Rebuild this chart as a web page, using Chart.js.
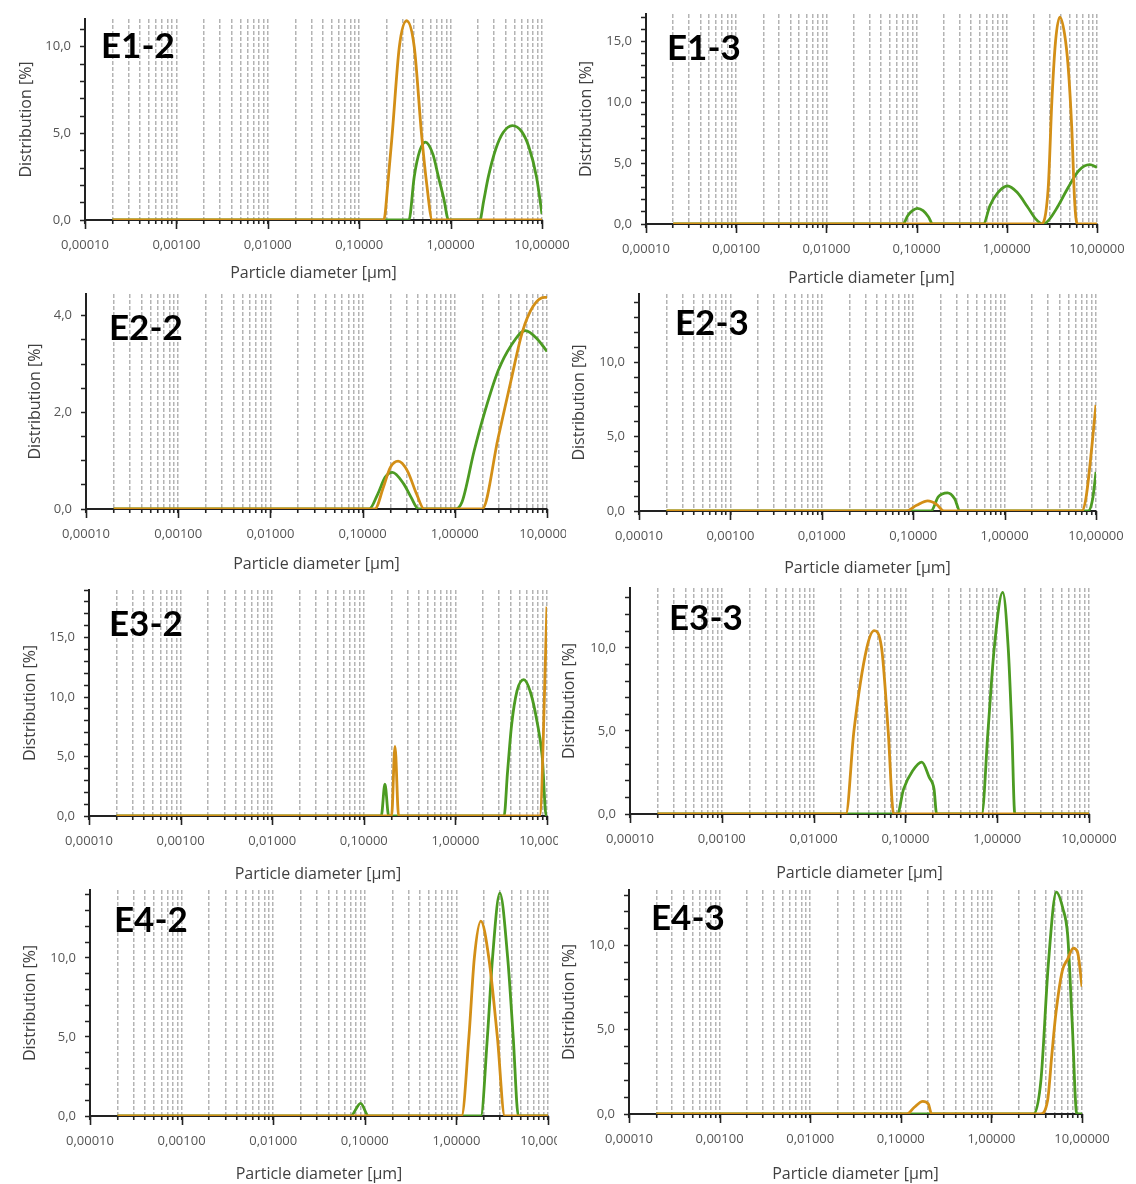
<!DOCTYPE html>
<html>
<head>
<meta charset="utf-8">
<script src="https://cdn.jsdelivr.net/npm/chart.js@4/dist/chart.umd.min.js"></script>
<style>
  html, body { margin: 0; padding: 0; background: #fff; }
  #sheet { position: relative; width: 1136px; height: 1184px; overflow: hidden; background: #fff; }
  .panel { position: absolute; }
  .panel canvas { position: absolute; left: 0; top: 0; }
  .tag { position: absolute; font-family: Lato, "Open Sans", sans-serif; font-weight: 700;
         font-size: 35px; line-height: 1; color: #000; white-space: nowrap; }
</style>
</head>
<body>
<div id="sheet"></div>
<script>
// Particle size distributions, [diameter in µm, distribution in %]
const e12Green  = [[0.0002,0],[0.35,0],[0.40,2.5],[0.46,4.0],[0.53,4.5],[0.64,3.8],[0.735,2.5],[0.845,1.2],[0.95,0],[2.09,0],[2.3,1.1],[2.59,2.5],[3.12,4.1],[3.76,5.05],[4.74,5.45],[6.0,5.1],[7.2,4.2],[8.7,2.5],[10,0.35]];
const e12Orange = [[0.0002,0],[0.186,0],[0.205,2.0],[0.23,5.0],[0.275,10.0],[0.33,11.5],[0.40,10.0],[0.48,5.0],[0.55,2.0],[0.63,0],[10,0]];

const e13Green  = [[0.0002,0],[0.0705,0],[0.08,0.7],[0.09,1.1],[0.102,1.29],[0.118,1.1],[0.135,0.6],[0.151,0],[0.55,0],[0.65,1.5],[0.8,2.6],[1.02,3.12],[1.3,2.6],[1.7,1.4],[2.1,0.4],[2.5,0],[2.9,0.3],[3.63,1.37],[4.79,3.0],[6.3,4.4],[8.3,4.88],[10,4.66]];
const e13Orange = [[0.0002,0],[2.4,0],[2.88,3.0],[3.16,10.1],[3.47,15.0],[3.87,17.0],[4.37,15.6],[4.79,12.9],[5.25,7.9],[5.65,1.9],[6.03,0],[10,0]];

const e22Green  = [[0.0002,0],[0.118,0],[0.146,0.31],[0.176,0.66],[0.211,0.76],[0.279,0.52],[0.336,0.24],[0.404,0],[1.02,0],[1.2,0.15],[1.62,1.2],[2.13,2.03],[2.95,2.86],[4.07,3.38],[5.8,3.69],[8.0,3.5],[10,3.26]];
const e22Orange = [[0.0002,0],[0.136,0],[0.168,0.45],[0.20,0.86],[0.243,0.99],[0.306,0.79],[0.385,0.31],[0.465,0],[1.98,0],[2.95,1.47],[4.07,2.66],[5.4,3.66],[7.1,4.2],[9.4,4.38],[10,4.38]];

const e23Green  = [[0.0002,0],[0.157,0],[0.188,0.95],[0.237,1.22],[0.284,0.83],[0.325,0],[8.2,0],[9.2,0.83],[10,2.63]];
const e23Orange = [[0.0002,0],[0.083,0],[0.109,0.38],[0.144,0.68],[0.18,0.45],[0.216,0],[7.0,0],[7.8,0.95],[10,7.14]];

const e32Green  = [[0.0002,0],[0.155,0],[0.170,2.68],[0.187,0],[3.40,0],[3.70,3.6],[4.10,7.6],[4.70,10.5],[5.57,11.46],[6.6,10.4],[7.8,7.9],[8.87,5.0],[9.8,0],[10,0]];
const e32Orange = [[0.0002,0],[0.201,0],[0.219,5.86],[0.240,0],[8.3,0],[10,17.6]];

const e33Green  = [[0.0002,0],[0.0817,0],[0.0955,1.5],[0.12,2.6],[0.151,3.12],[0.182,2.2],[0.205,1.5],[0.219,0],[0.679,0],[0.794,5.0],[0.929,10.0],[1.148,13.34],[1.318,10.0],[1.445,5.0],[1.556,0],[10,0]];
const e33Orange = [[0.0002,0],[0.0225,0],[0.0275,5.0],[0.038,10.0],[0.0457,11.03],[0.055,10.0],[0.0649,5.0],[0.0745,0],[10,0]];

const e42Green  = [[0.0002,0],[0.070,0],[0.090,0.8],[0.110,0],[1.85,0],[2.18,5.0],[2.48,10.0],[2.98,14.1],[3.63,10.0],[4.17,5.0],[4.75,0],[10,0]];
const e42Orange = [[0.0002,0],[1.14,0],[1.37,5.0],[1.57,10.0],[1.85,12.33],[2.26,10.0],[2.80,5.0],[3.37,0],[10,0]];

const e43Green  = [[0.0002,0],[2.92,0],[3.52,2.0],[4.25,8.9],[5.21,13.17],[6.15,12.2],[6.95,10.6],[7.78,5.5],[8.77,0],[10,0]];
const e43Orange = [[0.0002,0],[0.117,0],[0.141,0.4],[0.175,0.75],[0.201,0.6],[0.219,0],[3.46,0],[4.17,0.8],[4.66,3.6],[5.13,5.9],[6.06,8.5],[6.95,9.2],[8.0,9.84],[8.93,9.6],[10,7.56]];

// Axis values
const decades = [0.0001, 0.001, 0.01, 0.1, 1, 10];
const decadeLabels = ['0,00010', '0,00100', '0,01000', '0,10000', '1,00000', '10,00000'];
const gridSteps = [2, 3, 4, 5, 6, 7, 8, 9, 10];
const panelNames = ['E1-2', 'E1-3', 'E2-2', 'E2-3', 'E3-2', 'E3-3', 'E4-2', 'E4-3'];
const yMaxima  = [11.6, 17.25, 4.45, 14.6, 19.0, 13.6, 14.3, 13.3];
const yMinorStep = [1, 1, 0.5, 1, 1, 1, 1, 1];
const yLabelStep = [5, 5, 2, 5, 5, 5, 5, 5];
const greenSeries  = [e12Green, e13Green, e22Green, e23Green, e32Green, e33Green, e42Green, e43Green];
const orangeSeries = [e12Orange, e13Orange, e22Orange, e23Orange, e32Orange, e33Orange, e42Orange, e43Orange];

// Page layout of each panel: canvas box [left, top, width, height],
// plot frame [left, top, right, bottom], tag corner, axis title centres
const layouts = [
  { box: [0, 0, 575, 288],     plot: [85, 19, 542, 220],     tag: [101, 27],  yTitleX: 26,  xTitleY: 273 },
  { box: [575, 0, 561, 290],   plot: [646, 14, 1097, 224],   tag: [667, 29],  yTitleX: 586, xTitleY: 278 },
  { box: [0, 290, 566, 290],   plot: [86, 294, 547, 509],    tag: [109, 309], yTitleX: 35,  xTitleY: 564 },
  { box: [568, 290, 568, 290], plot: [639, 294, 1096, 511],  tag: [675, 304], yTitleX: 579, xTitleY: 568 },
  { box: [0, 580, 558, 305],   plot: [89, 590, 547, 816],    tag: [109, 605], yTitleX: 30,  xTitleY: 874 },
  { box: [558, 580, 578, 305], plot: [630, 588, 1089, 814],  tag: [669, 599], yTitleX: 569, xTitleY: 873 },
  { box: [0, 885, 557, 299],   plot: [90, 890, 548, 1116],   tag: [114, 901], yTitleX: 30,  xTitleY: 1174 },
  { box: [557, 885, 579, 299], plot: [629, 890, 1082, 1114], tag: [651, 899], yTitleX: 569, xTitleY: 1174 }
];

const GREEN = '#4c9b22';
const ORANGE = '#d38f17';
const AXIS = '#222222';
const GRID = '#b4b4b4';
const TICK_FONT = { family: '"Open Sans", "Noto Sans", sans-serif', size: 13 };
const TITLE_FONT = { family: '"Open Sans", "Noto Sans", sans-serif', size: 16 };

const xTickValues = [decades[0]];
for (let d = 0; d < decades.length - 1; d++) {
  for (const m of gridSteps) xTickValues.push(Number((decades[d] * m).toPrecision(6)));
}
function decadeIndex(v) {
  return decades.findIndex(d => Math.abs(Math.log10(d) - Math.log10(v)) < 1e-6);
}
const toPoints = arr => arr.map(([x, y]) => ({ x, y }));

// longer tick marks at every decade of the diameter axis
const decadeTicks = {
  id: 'decadeTicks',
  afterDraw(chart) {
    const s = chart.scales.x, ctx = chart.ctx;
    ctx.save();
    ctx.strokeStyle = AXIS;
    ctx.lineWidth = 1.6;
    for (const d of decades) {
      const px = Math.round(s.getPixelForValue(d)) + 0.5;
      ctx.beginPath();
      ctx.moveTo(px, s.top);
      ctx.lineTo(px, s.top + 9);
      ctx.stroke();
    }
    ctx.restore();
  }
};

const sheet = document.getElementById('sheet');

panelNames.forEach((name, i) => {
  const L = layouts[i];
  const [bx, by, bw, bh] = L.box;
  const [pl, pt, pr, pb] = L.plot;

  const wrap = document.createElement('div');
  wrap.className = 'panel';
  wrap.style.left = bx + 'px';
  wrap.style.top = by + 'px';
  wrap.style.width = bw + 'px';
  wrap.style.height = bh + 'px';
  const cv = document.createElement('canvas');
  cv.width = bw; cv.height = bh;
  cv.style.width = bw + 'px'; cv.style.height = bh + 'px';
  wrap.appendChild(cv);
  sheet.appendChild(wrap);

  const tag = document.createElement('div');
  tag.className = 'tag';
  tag.textContent = name;
  tag.style.left = L.tag[0] + 'px';
  tag.style.top = L.tag[1] + 'px';
  sheet.appendChild(tag);

  const titleLH = TITLE_FONT.size * 1.2;
  const yStep = yMinorStep[i], yLab = yLabelStep[i];

  new Chart(cv, {
    type: 'line',
    data: {
      datasets: [
        { data: toPoints(orangeSeries[i]), borderColor: ORANGE, borderWidth: 2.8,
          pointRadius: 0, fill: false, cubicInterpolationMode: 'monotone' },
        { data: toPoints(greenSeries[i]), borderColor: GREEN, borderWidth: 2.8,
          pointRadius: 0, fill: false, cubicInterpolationMode: 'monotone' }
      ]
    },
    options: {
      responsive: false,
      animation: false,
      events: [],
      layout: { padding: { top: pt - by, right: (bx + bw) - pr, bottom: 0, left: 0 } },
      plugins: { legend: { display: false }, tooltip: { enabled: false } },
      scales: {
        x: {
          type: 'logarithmic',
          min: decades[0], max: decades[decades.length - 1],
          bounds: 'data',
          afterBuildTicks: s => { s.ticks = xTickValues.map(v => ({ value: v })); },
          afterFit: s => { s.height = (by + bh) - pb; s.paddingLeft = 0; s.paddingRight = 0; },
          ticks: {
            autoSkip: false, maxRotation: 0, minRotation: 0, padding: 13,
            font: TICK_FONT, color: '#555',
            callback: v => { const k = decadeIndex(v); return k >= 0 ? decadeLabels[k] : ''; }
          },
          grid: {
            color: c => (c.tick && c.tick.value <= decades[0] * 1.0001) ? 'rgba(0,0,0,0)' : GRID,
            lineWidth: 1.5, drawTicks: true, tickLength: 4, tickColor: AXIS, tickWidth: 1.6
          },
          border: { display: true, color: AXIS, width: 2, dash: [4, 2] },
          title: {
            display: true, text: 'Particle diameter [µm]', font: TITLE_FONT, color: '#404040',
            padding: { top: 0, bottom: (by + bh) - L.xTitleY - titleLH / 2 }
          }
        },
        y: {
          type: 'linear',
          min: 0, max: yMaxima[i],
          bounds: 'data',
          afterFit: s => { s.width = pl - bx; s.paddingTop = 0; s.paddingBottom = 0; },
          ticks: {
            stepSize: yStep, includeBounds: false, autoSkip: false, padding: 9,
            font: TICK_FONT, color: '#555',
            callback: v => {
              const r = v / yLab;
              return Math.abs(r - Math.round(r)) < 1e-9 ? v.toFixed(1).replace('.', ',') : '';
            }
          },
          grid: { drawOnChartArea: false, drawTicks: true, tickLength: 5, tickColor: AXIS, tickWidth: 1.5 },
          border: { display: true, color: AXIS, width: 2 },
          title: {
            display: true, text: 'Distribution [%]', font: TITLE_FONT, color: '#404040',
            padding: { top: L.yTitleX - bx - titleLH / 2, bottom: 0 }
          }
        }
      }
    },
    plugins: [decadeTicks]
  });
});
</script>
</body>
</html>
